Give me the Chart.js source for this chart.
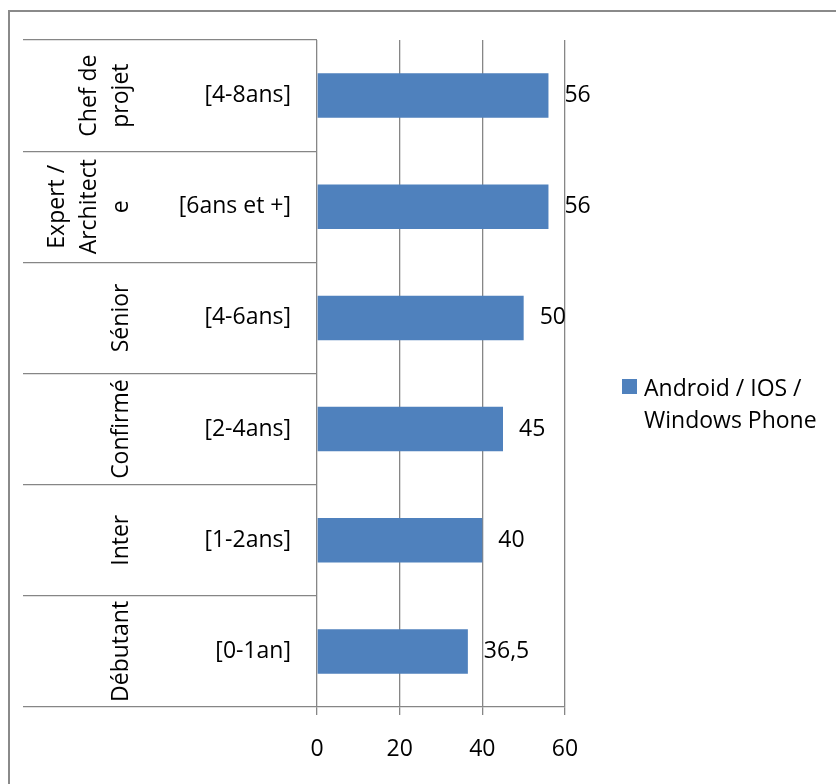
<!DOCTYPE html>
<html lang="fr">
<head>
<meta charset="utf-8">
<title>Salaires par niveau</title>
<script src="https://cdn.jsdelivr.net/npm/chart.js@4.4.1/dist/chart.umd.min.js"></script>
<style>
  html, body { margin: 0; padding: 0; background: #fff; overflow: hidden; }
  #page { position: relative; width: 836px; height: 784px; overflow: hidden; }
  #cadre { position: absolute; left: 8px; top: 10px; width: 900px; height: 900px; border: 2px solid #8a8a8a; }
  #graph { position: absolute; left: 0; top: 0; }
  .legende { position: absolute; left: 622px; top: 371px; font: 23px "Open Sans"; line-height: 32px; color: #000; }
  .legende .carre { position: absolute; left: 0; top: 8px; width: 15px; height: 15px; background: #4f81bd; }
  .legende .texte { position: absolute; left: 22px; top: 0; white-space: nowrap; }
</style>
</head>
<body>
<div id="page">
  <div id="cadre"></div>
  <canvas id="graph" width="836" height="784"></canvas>
  <div class="legende"><span class="carre"></span><div class="texte" id="legendeTexte"></div></div>
</div>
<script>
// niveaux (axe extérieur, texte vertical) et tranches d'expérience (axe intérieur)
const niveaux = [["Chef de", "projet"], ["Expert /", "Architect", "e"], ["Sénior"], ["Confirmé"], ["Inter"], ["Débutant"]];
const experience = ["[4-8ans]", "[6ans et +]", "[4-6ans]", "[2-4ans]", "[1-2ans]", "[0-1an]"];
const salaires = [56, 56, 50, 45, 40, 36.5];
const graduations = [0, 20, 40, 60];
const serie = ["Android / IOS /", "Windows Phone"];

const police = { family: '"Open Sans"', size: 23 };
const gris = "#868686";

document.getElementById("legendeTexte").innerHTML = serie.join("<br>");

// chaque libellé sur 3 lignes : la dernière ligne reste alignée comme dans Excel
const niveauxCales = niveaux.map((l) => Array(3 - l.length).fill("").concat(l));

const mesure = document.createElement("canvas").getContext("2d");
mesure.font = `${police.size}px ${police.family}`;
const plusLarge = Math.max(...niveaux.flat().map((t) => mesure.measureText(t).width));

const fmtVal = (v) => String(v).replace(".", ",");

const etiquettesValeurs = {
  id: "etiquettesValeurs",
  afterDatasetsDraw(chart) {
    const { ctx } = chart;
    const meta = chart.getDatasetMeta(0);
    ctx.save();
    ctx.font = `${police.size}px ${police.family}`;
    ctx.fillStyle = "#000";
    ctx.textAlign = "left";
    ctx.textBaseline = "middle";
    meta.data.forEach((barre, i) => {
      ctx.fillText(fmtVal(salaires[i]), barre.x + 16, barre.y);
    });
    ctx.restore();
  },
};

new Chart(document.getElementById("graph"), {
  type: "bar",
  data: {
    labels: experience,
    datasets: [
      {
        label: serie.join(" "),
        data: salaires,
        backgroundColor: "#4f81bd",
        barPercentage: 0.4,
        categoryPercentage: 1,
      },
    ],
  },
  options: {
    indexAxis: "y",
    responsive: false,
    animation: false,
    devicePixelRatio: 1,
    layout: { padding: { left: 23, top: 40, right: 271, bottom: 0 } },
    plugins: { legend: { display: false }, tooltip: { enabled: false } },
    scales: {
      x: {
        min: 0,
        max: 60,
        afterBuildTicks: (s) => { s.ticks = graduations.map((v) => ({ value: v })); },
        afterFit: (s) => { s.height = 77; },
        grid: { color: gris, lineWidth: 1.3, tickLength: 8 },
        border: { color: gris, width: 1.3 },
        ticks: { color: "#000", font: police, padding: 21 },
      },
      y: {
        type: "category",
        weight: 0,
        offset: true,
        afterFit: (s) => { s.width = 156; },
        grid: { offset: true, drawOnChartArea: false, color: gris, lineWidth: 1.3, tickLength: 156 },
        border: { display: false },
        ticks: { color: "#000", font: police, padding: -130, autoSkip: false },
      },
      y2: {
        type: "category",
        axis: "y",
        position: "left",
        weight: 1,
        offset: true,
        labels: niveauxCales,
        afterFit: (s) => { s.width = 138; },
        grid: { offset: true, drawOnChartArea: false, color: gris, lineWidth: 1.3, tickLength: 138 },
        border: { display: false },
        ticks: {
          color: "#000",
          font: { ...police, lineHeight: 1.39 },
          minRotation: 90,
          maxRotation: 90,
          crossAlign: "center",
          autoSkip: false,
          padding: 161 - 138 - 89 - plusLarge / 2,
        },
      },
    },
  },
  plugins: [etiquettesValeurs],
});
</script>
</body>
</html>
